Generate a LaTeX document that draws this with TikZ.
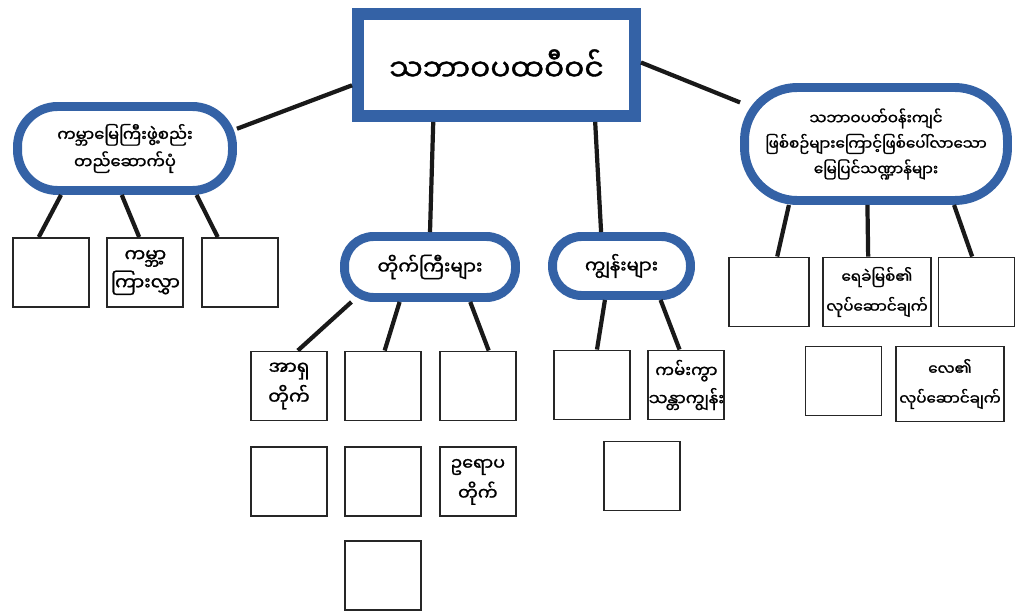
\documentclass[tikz,border=0pt]{standalone}
\usepackage{fontspec}
\newfontfamily\mmfont[Script=Myanmar,FakeBold=1.3]{Noto Sans Myanmar UI}
\usetikzlibrary{positioning}
\definecolor{geoblue}{RGB}{52,98,166}

\begin{document}
\begin{tikzpicture}[x=0.02cm,y=-0.02cm,
      main_box/.style={
         draw=geoblue,
         line width=6.8pt,
         fill=white,
         inner sep=0pt,
         minimum width=5.54cm,
         minimum height=2.04cm,
         font=\mmfont\fontsize{17}{20}\selectfont},
      round_node/.style={
         draw=geoblue,
         line width=5.1pt,
         fill=white,
         rounded corners=0.58cm,
         inner sep=0pt,
         align=center,
         font=\mmfont\fontsize{9.3}{15.5}\selectfont},
      sq_box/.style={
         draw=black!85,
         line width=1.1pt,
         fill=white,
         inner sep=0pt,
         minimum width=1.52cm,
         minimum height=1.38cm,
         align=center,
         font=\mmfont\fontsize{9.5}{16}\selectfont},
      wide_box/.style={
         sq_box,
         minimum width=2.16cm,
         font=\mmfont\fontsize{8.6}{17}\selectfont},
      link/.style={
         line width=2.4pt,
         black!90}
]
      \useasboundingbox (0,0) rectangle (1020,611);

      %top
      \node[main_box] (geo) at (496.5,65) {သဘာဝပထဝီဝင်};

      \node[round_node,minimum width=4.3cm,minimum height=1.68cm,rounded corners=0.8cm] (lnode) at (125,148.5)
         {ကမ္ဘာမြေကြီးဖွဲ့စည်း\\တည်ဆောက်ပုံ};
      \node[round_node,minimum width=5.26cm,minimum height=2.26cm,rounded corners=1.05cm,
            font=\mmfont\fontsize{8.6}{14.5}\selectfont] (rnode) at (876,144)
         {သဘာဝပတ်ဝန်းကျင်\\ဖြစ်စဉ်များကြောင့်ဖြစ်ပေါ်လာသော\\မြေပြင်သဏ္ဍာန်များ};
      \node[round_node,minimum width=3.42cm,minimum height=1.22cm,font=\mmfont\fontsize{10.5}{15}\selectfont] (cont) at (430,267) {တိုက်ကြီးများ};
      \node[round_node,minimum width=2.76cm,minimum height=1.18cm,font=\mmfont\fontsize{10.3}{15}\selectfont] (isl) at (621.5,266) {ကျွန်းများ};

      %left row
      \node[sq_box] (lb1) at (51,272.5) {};
      \node[sq_box,right=0.33cm of lb1,font=\mmfont\fontsize{10.5}{16}\selectfont] (lb2) {ကမ္ဘာ့\\ကြားလွှာ};
      \node[sq_box,right=0.33cm of lb2] (lb3) {};

      %continents
      \node[sq_box,font=\mmfont\fontsize{10.5}{17}\selectfont] (cb1) at (289,386) {အာရှ\\တိုက်};
      \node[sq_box,right=0.33cm of cb1] (cb2) {};
      \node[sq_box,right=0.33cm of cb2] (cb3) {};
      \node[sq_box,below=0.5cm of cb1] (cb4) {};
      \node[sq_box,below=0.5cm of cb2] (cb5) {};
      \node[sq_box,below=0.5cm of cb3,font=\mmfont\fontsize{10}{17}\selectfont] (cb6) {ဥရောပ\\တိုက်};
      \node[sq_box,below=0.46cm of cb5] (cb7) {};

      %islands
      \node[sq_box] (ib1) at (592,385) {};
      \node[sq_box,right=0.33cm of ib1] (ib2) {ကမ်းကွာ\\သန္တာကျွန်း};
      \node[sq_box] (ib3) at (642,476) {};

      %landforms
      \node[sq_box,minimum width=1.6cm] (rb1) at (769,292) {};
      \node[wide_box] (rb2) at (877,292) {ရေခဲမြစ်၏\\လုပ်ဆောင်ချက်};
      \node[sq_box] (rb3) at (976.5,292) {};
      \node[sq_box] (rb4) at (843.5,381) {};
      \node[wide_box,minimum height=1.5cm] (rb5) at (950,384) {လေ၏\\လုပ်ဆောင်ချက်};

    \foreach \i/\j in {% start/end
      geo.188/lnode.10,
      geo.1/rnode.163,
      geo.222/cont.north,
      geo.330/isl.121,
      lnode.216/lb1.109,
      lnode.266/lb2.100,
      lnode.327/lb3.122,
      cont.204/cb1.76,
      cont.229/cb2.88,
      cont.319/cb3.73,
      isl.244/ib1.82,
      isl.319/ib2.101,
      rnode.215/rb1.77,
      rnode.262/rb2.104,
      rnode.322/rb3.97}
 \draw[link] (\i) -- (\j);
\end{tikzpicture}
\end{document}
